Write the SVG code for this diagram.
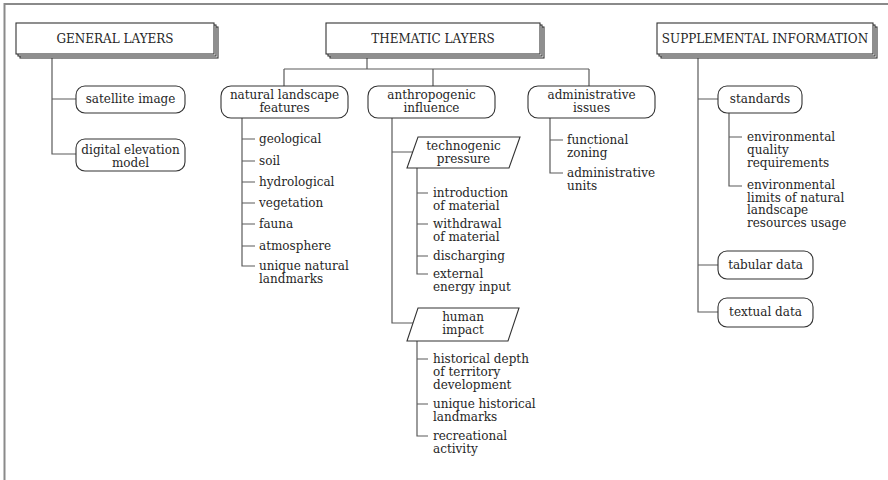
<svg xmlns="http://www.w3.org/2000/svg" width="888" height="480" viewBox="0 0 888 480">
<style>
text{font-family:"DejaVu Serif","Liberation Serif",serif;font-size:12px;fill:#262626}
.c{text-anchor:middle}
.box{fill:#fff;stroke:#333;stroke-width:1.1}
.conn{fill:none;stroke:#5a5a5a;stroke-width:1.2}
.frame{fill:none;stroke:#8a8a8a;stroke-width:2}
</style>
<rect width="888" height="480" fill="#fff"/>
<path class="frame" d="M4.5,480 V4 H888"/>
<g id="connectors">
<path class="conn" d="M52,54 V154 H76 M52,99 H76"/>
<path class="conn" d="M367,54 V69 M284,69 H589 M284,69 V86 M433,69 V86 M589,69 V86"/>
<path class="conn" d="M242,118 V266 H255 M242,139 H255 M242,161 H255 M242,182 H255 M242,203 H255 M242,224 H255 M242,246 H255"/>
<path class="conn" d="M392,118 V323 H413 M392,152 H413"/>
<path class="conn" d="M417,168 V274 H428 M417,193 H428 M417,224 H428 M417,256 H428"/>
<path class="conn" d="M417,341 V436 H428 M417,359 H428 M417,404 H428"/>
<path class="conn" d="M550,118 V173 H563 M550,140 H563"/>
<path class="conn" d="M698,54 V312 H718 M698,99 H718 M698,265 H718"/>
<path class="conn" d="M729,113 V186 H742 M729,137 H742"/>
</g>
<g id="general-layers">
<rect class="box" x="20" y="27" width="198" height="31"/>
<rect class="box" x="18" y="25" width="198" height="31"/>
<rect class="box" x="16" y="23" width="198" height="31"/>
<text class="c" x="115" y="43">GENERAL LAYERS</text>
</g>
<g id="thematic-layers">
<rect class="box" x="330" y="27" width="214" height="31"/>
<rect class="box" x="328" y="25" width="214" height="31"/>
<rect class="box" x="326" y="23" width="214" height="31"/>
<text class="c" x="433" y="43">THEMATIC LAYERS</text>
</g>
<g id="supplemental-information">
<rect class="box" x="661" y="27" width="216" height="31"/>
<rect class="box" x="659" y="25" width="216" height="31"/>
<rect class="box" x="657" y="23" width="216" height="31"/>
<text class="c" x="765" y="43">SUPPLEMENTAL INFORMATION</text>
</g>
<g id="satellite-image">
<rect class="box" x="76" y="86" width="109" height="27" rx="9"/>
<text class="c" x="130.5" y="103">satellite image</text>
</g>
<g id="digital-elevation-model">
<rect class="box" x="76" y="139" width="109" height="32" rx="9"/>
<text class="c" x="130.5" y="153.5">digital elevation</text>
<text class="c" x="130.5" y="166.5">model</text>
</g>
<g id="natural-landscape-features">
<rect class="box" x="221" y="86" width="127" height="32" rx="10"/>
<text class="c" x="284.5" y="99">natural landscape</text>
<text class="c" x="284.5" y="112">features</text>
</g>
<g id="natural-items">
<text x="259" y="143">geological</text>
<text x="259" y="165">soil</text>
<text x="259" y="186">hydrological</text>
<text x="259" y="207">vegetation</text>
<text x="259" y="228">fauna</text>
<text x="259" y="250">atmosphere</text>
<text x="259" y="270">unique natural</text>
<text x="259" y="283">landmarks</text>
</g>
<g id="anthropogenic-influence">
<rect class="box" x="368" y="86" width="127" height="32" rx="10"/>
<text class="c" x="431.5" y="99">anthropogenic</text>
<text class="c" x="431.5" y="112">influence</text>
</g>
<g id="technogenic-pressure">
<polygon class="box" points="418,137 520,137 509,168 407,168"/>
<text class="c" x="463.5" y="150">technogenic</text>
<text class="c" x="463.5" y="163">pressure</text>
</g>
<g id="technogenic-items">
<text x="433" y="197">introduction</text>
<text x="433" y="210">of material</text>
<text x="433" y="228">withdrawal</text>
<text x="433" y="241">of material</text>
<text x="433" y="260">discharging</text>
<text x="433" y="278">external</text>
<text x="433" y="291">energy input</text>
</g>
<g id="human-impact">
<polygon class="box" points="418,308 519,308 508,341 407,341"/>
<text class="c" x="463" y="321">human</text>
<text class="c" x="463" y="334">impact</text>
</g>
<g id="human-items">
<text x="433" y="363">historical depth</text>
<text x="433" y="376">of territory</text>
<text x="433" y="389">development</text>
<text x="433" y="408">unique historical</text>
<text x="433" y="421">landmarks</text>
<text x="433" y="440">recreational</text>
<text x="433" y="453">activity</text>
</g>
<g id="administrative-issues">
<rect class="box" x="528" y="86" width="127" height="32" rx="10"/>
<text class="c" x="591.5" y="99">administrative</text>
<text class="c" x="591.5" y="112">issues</text>
</g>
<g id="administrative-items">
<text x="567" y="144">functional</text>
<text x="567" y="157">zoning</text>
<text x="567" y="177">administrative</text>
<text x="567" y="190">units</text>
</g>
<g id="standards">
<rect class="box" x="718" y="86" width="84" height="27" rx="9"/>
<text class="c" x="760" y="103">standards</text>
</g>
<g id="standards-items">
<text x="747" y="141">environmental</text>
<text x="747" y="154">quality</text>
<text x="747" y="167">requirements</text>
<text x="747" y="189">environmental</text>
<text x="747" y="201.5">limits of natural</text>
<text x="747" y="214">landscape</text>
<text x="747" y="226.5">resources usage</text>
</g>
<g id="tabular-data">
<rect class="box" x="718" y="251" width="95" height="28" rx="9"/>
<text class="c" x="765.5" y="269">tabular data</text>
</g>
<g id="textual-data">
<rect class="box" x="718" y="298" width="95" height="29" rx="9"/>
<text class="c" x="765.5" y="316">textual data</text>
</g>
</svg>
